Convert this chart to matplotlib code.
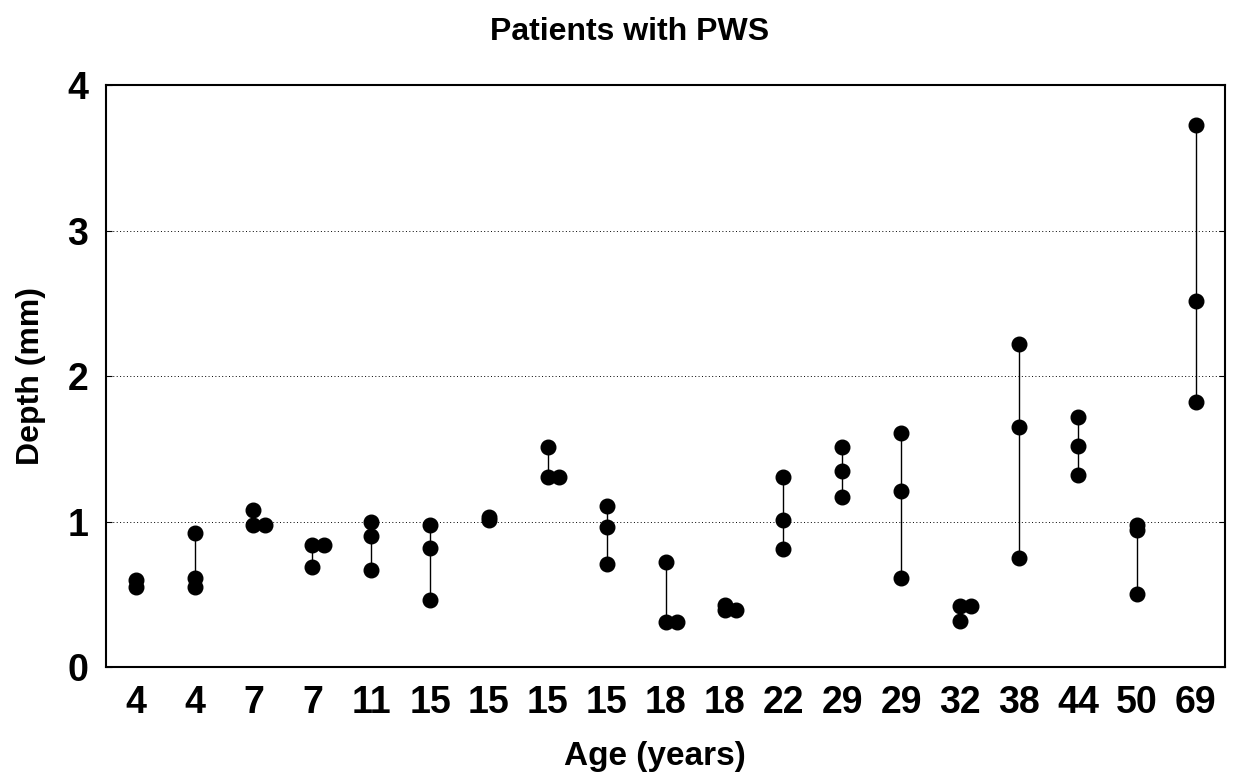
import matplotlib.pyplot as plt

plt.rcParams["font.family"] = ["Liberation Sans", "DejaVu Sans"]
plt.rcParams["font.weight"] = "bold"

# Age of each patient (one column per patient)
ages = ["4", "4", "7", "7", "11", "15", "15", "15", "15", "18",
        "18", "22", "29", "29", "32", "38", "44", "50", "69"]

# Depth measurements (mm) for each patient
depths = [
    [0.60, 0.55],
    [0.92, 0.61, 0.55],
    [1.08, 0.98, 0.98],
    [0.84, 0.84, 0.69],
    [1.00, 0.90, 0.67],
    [0.98, 0.82, 0.46],
    [1.03, 1.01],
    [1.51, 1.31, 1.31],
    [1.11, 0.96, 0.71],
    [0.72, 0.31, 0.31],
    [0.43, 0.39, 0.39],
    [1.31, 1.01, 0.81],
    [1.51, 1.35, 1.17],
    [1.61, 1.21, 0.61],
    [0.42, 0.42, 0.32],
    [2.22, 1.65, 0.75],
    [1.72, 1.52, 1.32],
    [0.98, 0.94, 0.50],
    [3.73, 2.52, 1.82],
]

fig = plt.figure(figsize=(12.35, 7.83), dpi=100)
ax = fig.add_axes([0.086, 0.148, 0.906, 0.743])

for i, vals in enumerate(depths):
    ax.plot([i, i], [min(vals), max(vals)], color="black", lw=1.0, zorder=2)
    seen = []
    for v in vals:
        # repeated readings sit side by side
        shift = 0.19 * seen.count(v)
        seen.append(v)
        ax.plot(i + shift, v, "o", color="black", ms=10.5, zorder=3)

ax.set_xlim(-0.5, len(ages) - 0.5)
ax.set_ylim(0, 4)
ax.set_xticks(range(len(ages)))
ax.set_xticklabels(ages)
ax.set_yticks([0, 1, 2, 3, 4])
ax.tick_params(axis="x", length=0, labelsize=27, pad=13)
ax.tick_params(axis="y", direction="in", length=4, labelsize=27, pad=13,
               right=True)
for label in ax.get_xticklabels() + ax.get_yticklabels():
    label.set_fontweight("bold")

ax.yaxis.grid(True, color="black", lw=0.7, linestyle=(0, (1, 2.5)))
ax.set_axisbelow(True)
for spine in ax.spines.values():
    spine.set_linewidth(1.5)

ax.set_xlabel("Age (years)", fontsize=24, fontweight="bold", labelpad=14,
              x=0.49)
ax.set_ylabel("Depth (mm)", fontsize=23, fontweight="bold", labelpad=15)
ax.set_title("Patients with PWS", fontsize=23, fontweight="bold", pad=33,
             x=0.468)

fig.savefig("out.png", dpi=100)
